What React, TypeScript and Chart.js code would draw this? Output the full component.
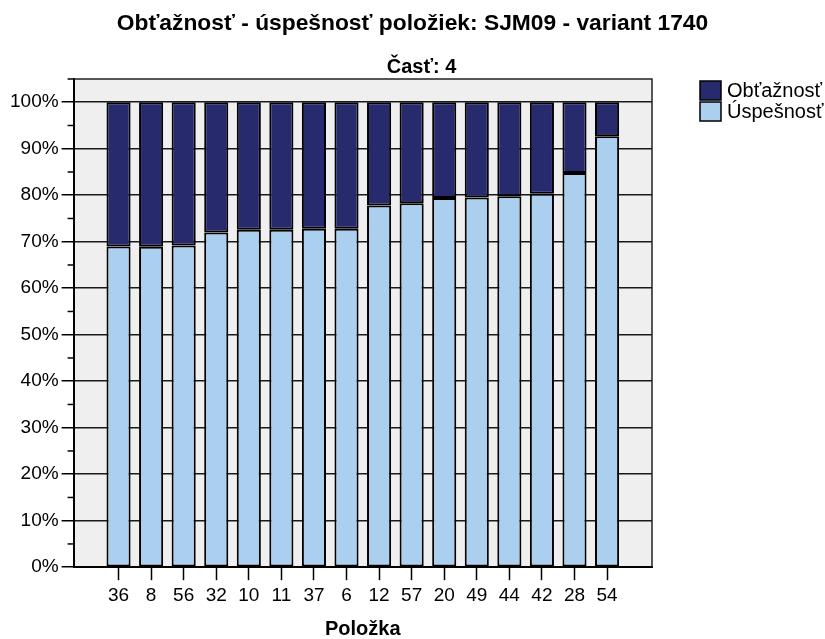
import React, { useEffect, useRef } from 'react';
import { Chart, registerables } from 'chart.js';

Chart.register(...registerables);

const titleText = 'Obťažnosť - úspešnosť položiek: SJM09 - variant 1740';
const subtitleText = 'Časť: 4';
const xAxisTitle = 'Položka';
const items = ['36', '8', '56', '32', '10', '11', '37', '6', '12', '57', '20', '49', '44', '42', '28', '54'];
const uspesnost = [69.0, 68.9, 69.2, 72.0, 72.6, 72.6, 72.8, 72.8, 77.8, 78.3, 79.4, 79.5, 79.8, 80.3, 84.8, 92.7];
const obtaznost = [31.0, 31.1, 30.8, 28.0, 27.4, 27.4, 27.2, 27.2, 22.2, 21.7, 20.6, 20.5, 20.2, 19.7, 15.2, 7.3];
const seriesNames = ['Obťažnosť', 'Úspešnosť'];

const DARK = '#282a6e';
const LIGHT = '#abcfee';
const FONT = "'Liberation Sans', Arial, sans-serif";

const decorPlugin = {
  id: 'decor',
  beforeDraw(chart: any) {
    const { ctx, chartArea } = chart;
    ctx.save();
    ctx.fillStyle = '#efefef';
    ctx.fillRect(chartArea.left, chartArea.top, chartArea.right - chartArea.left, chartArea.bottom - chartArea.top);
    ctx.restore();
  },
  afterDraw(chart: any) {
    const { ctx, chartArea, width } = chart;
    const y = chart.scales.y;
    ctx.save();
    // titles
    ctx.fillStyle = '#000';
    ctx.textAlign = 'center';
    ctx.textBaseline = 'alphabetic';
    ctx.font = `bold 22.8px ${FONT}`;
    ctx.fillText(titleText, width / 2, 30);
    ctx.font = `bold 20px ${FONT}`;
    ctx.fillText(subtitleText, width / 2 + 9, 73);
    // frame
    ctx.strokeStyle = '#222';
    ctx.lineWidth = 1.5;
    ctx.beginPath();
    ctx.moveTo(chartArea.left, chartArea.top);
    ctx.lineTo(chartArea.right, chartArea.top);
    ctx.lineTo(chartArea.right, chartArea.bottom);
    ctx.stroke();
    // minor ticks
    ctx.strokeStyle = '#000';
    ctx.lineWidth = 1.5;
    for (const t of y.ticks) {
      if (t.value % 10 !== 0) {
        const py = y.getPixelForValue(t.value);
        ctx.beginPath();
        ctx.moveTo(chartArea.left - 6, py);
        ctx.lineTo(chartArea.left, py);
        ctx.stroke();
      }
    }
    // legend
    const colors = [DARK, LIGHT];
    const lx = 700;
    const ly = 81;
    ctx.font = `20px ${FONT}`;
    ctx.textBaseline = 'middle';
    ctx.textAlign = 'left';
    seriesNames.forEach((name, i) => {
      const by = ly + i * 21;
      ctx.fillStyle = colors[i];
      ctx.fillRect(lx, by, 21, 19);
      ctx.strokeStyle = '#000';
      ctx.lineWidth = 1.5;
      ctx.strokeRect(lx, by, 21, 19);
      ctx.fillStyle = '#000';
      ctx.fillText(name, lx + 27, by + 10.5);
    });
    ctx.restore();
  },
};

export default function App() {
  const ref = useRef<HTMLCanvasElement | null>(null);

  useEffect(() => {
    if (!ref.current) return;
    const chart = new Chart(ref.current, {
      type: 'bar',
      data: {
        datasets: [
          {
            label: seriesNames[1],
            data: items.map((_, i) => ({ x: i, y: uspesnost[i] })),
            backgroundColor: LIGHT,
            borderColor: '#000',
            borderWidth: 2,
            borderSkipped: false,
            barPercentage: 0.74,
            categoryPercentage: 1,
          },
          {
            label: seriesNames[0],
            data: items.map((_, i) => ({ x: i, y: obtaznost[i] })),
            backgroundColor: DARK,
            borderColor: '#000',
            borderWidth: 2,
            borderSkipped: false,
            barPercentage: 0.74,
            categoryPercentage: 1,
          },
        ],
      },
      options: {
        animation: false,
        responsive: true,
        maintainAspectRatio: false,
        layout: { padding: { left: 7, right: 173, top: 79, bottom: 0 } },
        plugins: {
          legend: { display: false },
          tooltip: { enabled: false },
          title: { display: false },
        },
        scales: {
          x: {
            type: 'linear',
            stacked: true,
            offset: false,
            min: -1.38,
            max: 16.38,
            afterBuildTicks: (scale: any) => {
              scale.ticks = items.map((_, i) => ({ value: i }));
            },
            ticks: {
              autoSkip: false,
              maxRotation: 0,
              color: '#000',
              padding: 4,
              font: { family: FONT, size: 19 },
              callback: (v: any) => items[v] ?? '',
            },
            grid: {
              display: true,
              offset: false,
              drawOnChartArea: false,
              drawTicks: true,
              tickLength: 13,
              tickColor: '#000',
              tickWidth: 1.5,
            },
            border: { display: true, color: '#000', width: 2 },
            title: {
              display: true,
              text: xAxisTitle,
              color: '#000',
              font: { family: FONT, size: 20, weight: 'bold', lineHeight: 1 },
              padding: { top: 8, bottom: 0 },
            },
          },
          y: {
            stacked: true,
            min: 0,
            max: 105,
            ticks: {
              stepSize: 5,
              autoSkip: false,
              color: '#000',
              padding: 3,
              font: { family: FONT, size: 19 },
              callback: (v: any) => (v % 10 === 0 ? `${v}%` : ''),
            },
            grid: {
              color: (c: any) => (c.tick && c.tick.value % 10 === 0 ? '#1a1a1a' : 'transparent'),
              lineWidth: 1.5,
              tickLength: 12,
              tickColor: (c: any) => (c.tick && c.tick.value % 10 === 0 ? '#000' : 'transparent'),
              tickWidth: 1.5,
            },
            border: { display: true, color: '#000', width: 2 },
          },
        },
      },
      plugins: [decorPlugin],
    });
    return () => chart.destroy();
  }, []);

  return (
    <div style={{ position: 'fixed', left: 0, top: 0, width: 825, height: 639, background: '#fff' }}>
      <canvas ref={ref} />
    </div>
  );
}
